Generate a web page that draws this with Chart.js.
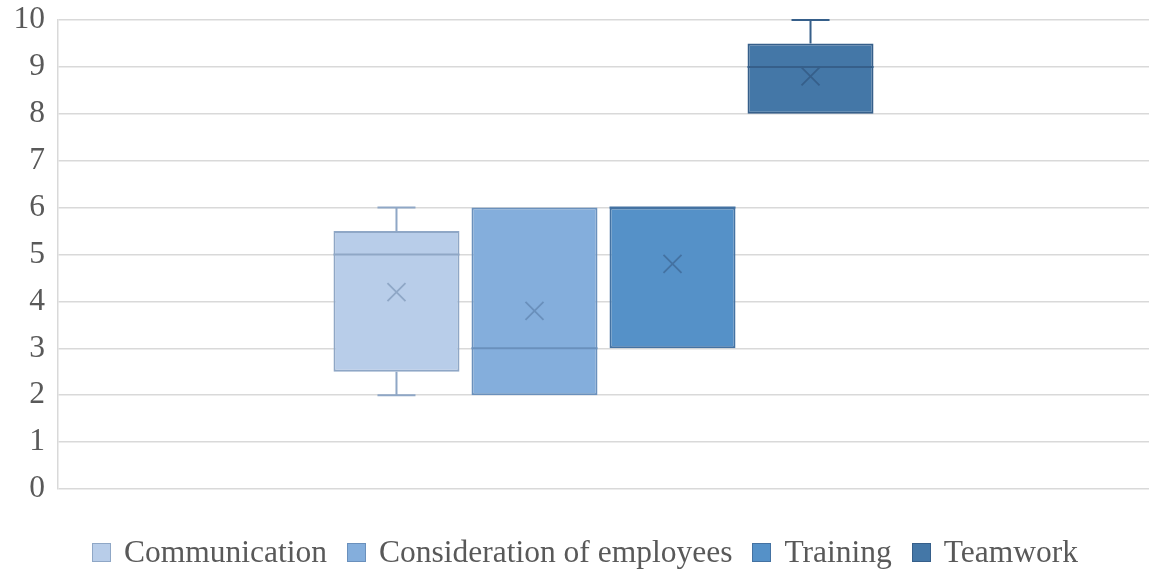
<!DOCTYPE html>
<html>
<head>
<meta charset="utf-8">
<script src="https://cdn.jsdelivr.net/npm/chart.js@4/dist/chart.umd.min.js"></script>
<style>
  html, body { margin: 0; padding: 0; background: #ffffff; }
  #wrap { position: relative; width: 1149px; height: 570px; }
  #legend {
    position: absolute; left: 0; right: 0; top: 534px;
    display: flex; justify-content: center; align-items: center;
    font-family: "Liberation Serif", "Times New Roman", serif;
    font-size: 31.5px; color: #595959; white-space: nowrap;
    padding-left: 21px;
  }
  .item { display: flex; align-items: center; margin: 0 10px; }
  .swatch { width: 17px; height: 17px; border: 1px solid; margin-right: 13px; }
</style>
</head>
<body>
<div id="wrap">
  <canvas id="chart" width="1149" height="570"></canvas>
  <div id="legend"></div>
</div>
<script>
// Survey scores per factor: five-number summary plus mean
const seriesNames = ['Communication', 'Consideration of employees', 'Training', 'Teamwork'];
const minimums  = [2,   2,   3,   8];
const quartile1 = [2.5, 2,   3,   8];
const medians   = [5,   3,   6,   9];
const quartile3 = [5.5, 6,   6,   9.5];
const maximums  = [6,   6,   6,   10];
const means     = [4.2, 3.8, 4.8, 8.8];
const yTicks    = [0, 1, 2, 3, 4, 5, 6, 7, 8, 9, 10];

const fills   = ['#b8cde9', '#84aedc', '#5591c8', '#4477a7'];
const strokes = ['#8fa7c6', '#6a90bc', '#4472a2', '#365f8a'];

const datasets = seriesNames.map((name, i) => ({
  label: name,
  data: [[quartile1[i], quartile3[i]]],
  backgroundColor: fills[i],
  borderColor: strokes[i],
  borderWidth: 2,
  borderSkipped: false,
  categoryPercentage: 0.506,
  barPercentage: 0.913
}));

// Whiskers, median line and mean marker for each box
const boxExtras = {
  id: 'boxExtras',
  afterDatasetsDraw(chart) {
    const ctx = chart.ctx;
    const y = chart.scales.y;
    chart.data.datasets.forEach((ds, i) => {
      const bar = chart.getDatasetMeta(i).data[0];
      if (!bar) return;
      const cx = bar.x, half = bar.width / 2;
      const pQ1 = y.getPixelForValue(quartile1[i]);
      const pQ3 = y.getPixelForValue(quartile3[i]);
      const pMin = y.getPixelForValue(minimums[i]);
      const pMax = y.getPixelForValue(maximums[i]);
      const pMed = y.getPixelForValue(medians[i]);
      const pMean = y.getPixelForValue(means[i]);
      ctx.save();
      ctx.strokeStyle = strokes[i];
      ctx.lineWidth = 2;
      ctx.beginPath();
      // median
      ctx.moveTo(cx - half, pMed); ctx.lineTo(cx + half, pMed);
      // upper whisker
      if (maximums[i] > quartile3[i]) {
        ctx.moveTo(cx, pQ3); ctx.lineTo(cx, pMax);
        ctx.moveTo(cx - 19, pMax); ctx.lineTo(cx + 19, pMax);
      }
      // lower whisker
      if (minimums[i] < quartile1[i]) {
        ctx.moveTo(cx, pQ1); ctx.lineTo(cx, pMin);
        ctx.moveTo(cx - 19, pMin); ctx.lineTo(cx + 19, pMin);
      }
      ctx.stroke();
      // mean marker
      const s = 9;
      ctx.lineWidth = 1.8;
      ctx.beginPath();
      ctx.moveTo(cx - s, pMean - s); ctx.lineTo(cx + s, pMean + s);
      ctx.moveTo(cx - s, pMean + s); ctx.lineTo(cx + s, pMean - s);
      ctx.stroke();
      ctx.restore();
    });
  }
};

const chart = new Chart(document.getElementById('chart'), {
  type: 'bar',
  data: { labels: [''], datasets },
  plugins: [boxExtras],
  options: {
    responsive: false,
    animation: false,
    layout: { padding: { top: 20, right: 0, bottom: 81, left: 0 } },
    plugins: { legend: { display: false }, tooltip: { enabled: false } },
    scales: {
      x: { display: false },
      y: {
        min: 0, max: 10,
        afterBuildTicks(scale) { scale.ticks = yTicks.map(v => ({ value: v })); },
        afterFit(scale) {
          scale.width = 58;
          scale.paddingTop = 0;
          scale.paddingBottom = 0;
        },
        ticks: {
          padding: 13,
          color: '#595959',
          font: { family: '"Liberation Serif", "Times New Roman", serif', size: 31.5 }
        },
        grid: { color: '#d9d9d9', lineWidth: 1.5, drawTicks: false },
        border: { display: true, color: '#d9d9d9', width: 1.5 }
      }
    }
  }
});

// Legend built from the chart's datasets
const legend = document.getElementById('legend');
chart.data.datasets.forEach(ds => {
  const item = document.createElement('div');
  item.className = 'item';
  const sw = document.createElement('span');
  sw.className = 'swatch';
  sw.style.background = ds.backgroundColor;
  sw.style.borderColor = ds.borderColor;
  const txt = document.createElement('span');
  txt.textContent = ds.label;
  item.appendChild(sw);
  item.appendChild(txt);
  legend.appendChild(item);
});
</script>
</body>
</html>
